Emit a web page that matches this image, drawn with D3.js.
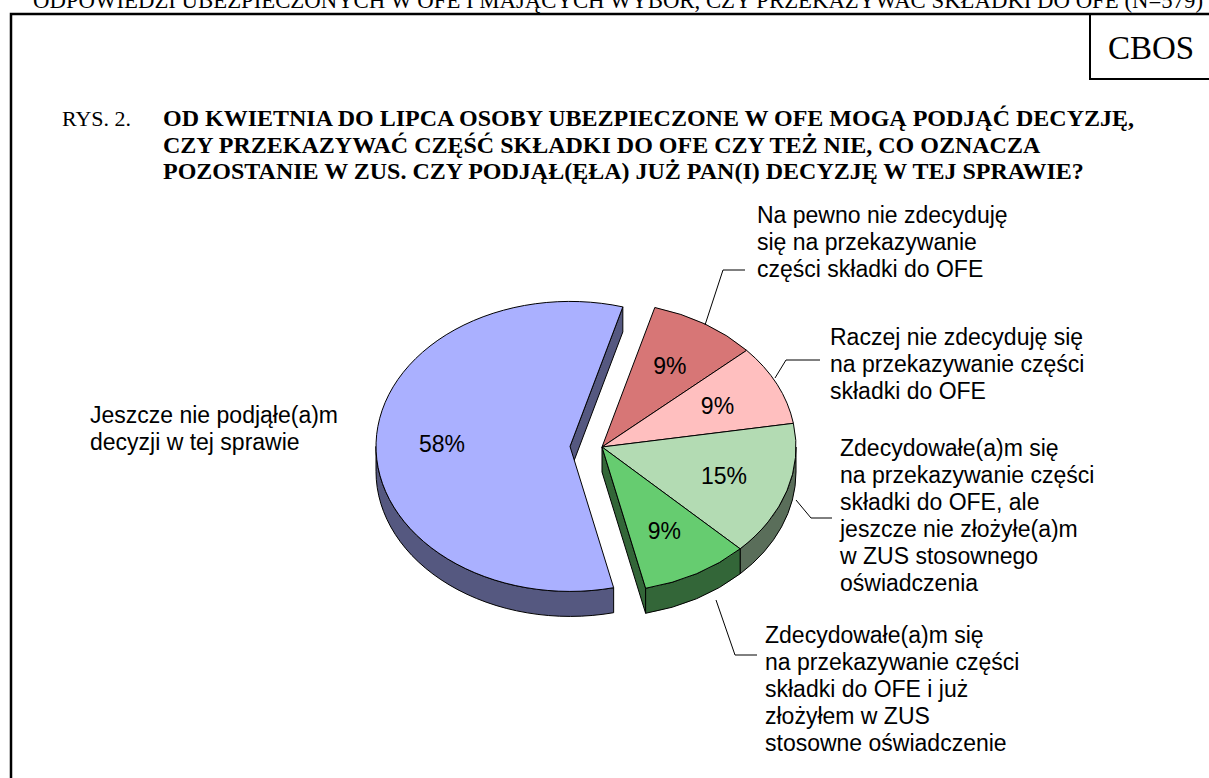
<!DOCTYPE html>
<html>
<head>
<meta charset="utf-8">
<script src="https://cdn.jsdelivr.net/npm/d3@7"></script>
<style>
  body { margin: 0; background: #fff; }
  svg { display: block; }
</style>
</head>
<body>
<div id="chart"></div>
<script>
// ---- data ----
var categories = [
  "Na pewno nie zdecyduję się na przekazywanie części składki do OFE",
  "Raczej nie zdecyduję się na przekazywanie części składki do OFE",
  "Zdecydowałe(a)m się na przekazywanie części składki do OFE, ale jeszcze nie złożyłe(a)m w ZUS stosownego oświadczenia",
  "Zdecydowałe(a)m się na przekazywanie części składki do OFE i już złożyłem w ZUS stosowne oświadczenie",
  "Jeszcze nie podjąłe(a)m decyzji w tej sprawie"
];
var values = [9, 9, 15, 9, 58];
var labelLines = [
  ["Na pewno nie zdecyduję", "się na przekazywanie", "części składki do OFE"],
  ["Raczej nie zdecyduję się", "na przekazywanie części", "składki do OFE"],
  ["Zdecydowałe(a)m się", "na przekazywanie części", "składki do OFE, ale", "jeszcze nie złożyłe(a)m", "w ZUS stosownego", "oświadczenia"],
  ["Zdecydowałe(a)m się", "na przekazywanie części", "składki do OFE i już", "złożyłem w ZUS", "stosowne oświadczenie"],
  ["Jeszcze nie podjąłe(a)m", "decyzji w tej sprawie"]
];
var headerText = "ODPOWIEDZI UBEZPIECZONYCH W OFE I MAJĄCYCH WYBÓR, CZY PRZEKAZYWAĆ SKŁADKI DO OFE (N=579)";
var titleLines = [
  "OD KWIETNIA DO LIPCA OSOBY UBEZPIECZONE W OFE MOGĄ PODJĄĆ DECYZJĘ,",
  "CZY PRZEKAZYWAĆ CZĘŚĆ SKŁADKI DO OFE CZY TEŻ NIE, CO OZNACZA",
  "POZOSTANIE W ZUS. CZY PODJĄŁ(ĘŁA) JUŻ PAN(I) DECYZJĘ W TEJ SPRAWIE?"
];

// ---- styles / layout ----
var sliceColors = ["#d77676", "#ffbfbf", "#b3dbb3", "#66cc70", "#aab0ff"];
var explodeSlice = [0, 0, 0, 0, 32];

var svgwdth = 1209, svghght = 778;
var cx = 602, cy = 447, rx = 194, ry = 145, depth = 25;
var rot = 15.8 * Math.PI / 180;

var sansFont = "'Liberation Sans', Arial, sans-serif";
var serifFont = "'Liberation Serif', 'Times New Roman', serif";

var calloutPos = [
  {x: 757, y: 223, leader: [[705, 325], [723, 270], [745, 270]]},
  {x: 830, y: 345, leader: [[775, 378], [786, 360], [820, 360]]},
  {x: 840, y: 456, leader: [[796, 500], [811, 518], [832, 518]]},
  {x: 765, y: 643, leader: [[716, 600], [735, 655], [757, 655]]},
  {x: 90, y: 423, leader: null}
];

var svg = d3.select("#chart").append("svg")
  .attr("width", svgwdth)
  .attr("height", svghght);

var color = d3.scaleOrdinal().domain(categories).range(sliceColors);

var pie = d3.pie().sort(null).startAngle(rot).endAngle(rot + 2 * Math.PI);
var arcs = pie(values);
arcs.forEach(function(d, i) {
  d.mid = (d.startAngle + d.endAngle) / 2;
  var e = explodeSlice[i] / rx;
  d.ox = rx * e * Math.sin(d.mid);
  d.oy = -ry * e * Math.cos(d.mid);
  d.top = color(categories[i]);
  var c = d3.rgb(d.top);
  d.side = d3.rgb(c.r * 0.5, c.g * 0.5, c.b * 0.5).toString();
});

function pt(d, a, dz) {
  return [cx + d.ox + rx * Math.sin(a), cy + d.oy - ry * Math.cos(a) + (dz || 0)];
}
function ctr(d, dz) {
  return [cx + d.ox, cy + d.oy + (dz || 0)];
}

var pieG = svg.append("g");

// radial side faces between slices that are pulled apart
var faces = [];
arcs.forEach(function(d, i) {
  var n = arcs.length;
  var prev = arcs[(i - 1 + n) % n], next = arcs[(i + 1) % n];
  if (prev.ox !== d.ox && -Math.sin(d.startAngle) > 0) faces.push({d: d, a: d.startAngle});
  if (next.ox !== d.ox && Math.sin(d.endAngle) > 0) faces.push({d: d, a: d.endAngle});
});
faces.forEach(function(f) {
  var c0 = ctr(f.d), p0 = pt(f.d, f.a), p1 = pt(f.d, f.a, depth), c1 = ctr(f.d, depth);
  pieG.append("path")
    .attr("d", "M" + c0 + "L" + p0 + "L" + p1 + "L" + c1 + "Z")
    .attr("fill", f.d.side)
    .attr("stroke", "#000")
    .attr("stroke-width", 1)
    .attr("stroke-linejoin", "round");
});

// curved outer walls, front half only
arcs.forEach(function(d) {
  [0, 2 * Math.PI].forEach(function(k) {
    var a0 = Math.max(d.startAngle, Math.PI / 2 + k);
    var a1 = Math.min(d.endAngle, 3 * Math.PI / 2 + k);
    if (a1 <= a0) return;
    var p = "M" + pt(d, a0) +
      "A" + rx + "," + ry + " 0 0 1 " + pt(d, a1) +
      "L" + pt(d, a1, depth) +
      "A" + rx + "," + ry + " 0 0 0 " + pt(d, a0, depth) + "Z";
    pieG.append("path")
      .attr("d", p)
      .attr("fill", d.side)
      .attr("stroke", "#000")
      .attr("stroke-width", 1)
      .attr("stroke-linejoin", "round");
  });
});

// top faces
pieG.selectAll("path.top")
  .data(arcs)
  .enter().append("path")
  .attr("class", "top")
  .attr("d", function(d) {
    var large = (d.endAngle - d.startAngle) > Math.PI ? 1 : 0;
    return "M" + ctr(d) + "L" + pt(d, d.startAngle) +
      "A" + rx + "," + ry + " 0 " + large + " 1 " + pt(d, d.endAngle) + "Z";
  })
  .attr("fill", function(d) { return d.top; })
  .attr("stroke", "#000")
  .attr("stroke-width", 1)
  .attr("stroke-linejoin", "round");

// percentage labels
pieG.selectAll("text.pct")
  .data(arcs)
  .enter().append("text")
  .attr("class", "pct")
  .attr("x", function(d) { return cx + d.ox + rx * 0.66 * Math.sin(d.mid); })
  .attr("y", function(d) { return cy + d.oy - ry * 0.66 * Math.cos(d.mid) + 8; })
  .attr("text-anchor", "middle")
  .attr("font-family", sansFont)
  .attr("font-size", 23)
  .text(function(d) { return d.value + "%"; });

// callout labels + leader lines
var lineH = 27;
calloutPos.forEach(function(pos, i) {
  if (pos.leader) {
    svg.append("path")
      .attr("d", d3.line()(pos.leader))
      .attr("fill", "none")
      .attr("stroke", "#000")
      .attr("stroke-width", 1);
  }
  var t = svg.append("text")
    .attr("font-family", sansFont)
    .attr("font-size", 23)
    .attr("fill", "#000");
  labelLines[i].forEach(function(line, j) {
    t.append("tspan").attr("x", pos.x).attr("y", pos.y + j * lineH).text(line);
  });
});

// header line, cut by the top edge
svg.append("text")
  .attr("x", 33)
  .attr("y", 8)
  .attr("font-family", serifFont)
  .attr("font-size", 22.7)
  .attr("textLength", 1170)
  .attr("lengthAdjust", "spacingAndGlyphs")
  .text(headerText);

// frame
svg.append("path")
  .attr("d", "M11," + svghght + "V14H" + svgwdth)
  .attr("fill", "none")
  .attr("stroke", "#000")
  .attr("stroke-width", 2.5);
svg.append("path")
  .attr("d", "M1090,14V79H" + svgwdth)
  .attr("fill", "none")
  .attr("stroke", "#000")
  .attr("stroke-width", 2);
svg.append("text")
  .attr("x", 1151)
  .attr("y", 59)
  .attr("text-anchor", "middle")
  .attr("font-family", serifFont)
  .attr("font-size", 33)
  .text("CBOS");

// title
svg.append("text")
  .attr("x", 62)
  .attr("y", 126)
  .attr("font-family", serifFont)
  .attr("font-size", 22)
  .text("RYS. 2.");
titleLines.forEach(function(line, j) {
  svg.append("text")
    .attr("x", 163)
    .attr("y", 126 + j * 26.5)
    .attr("font-family", serifFont)
    .attr("font-size", 24)
    .attr("font-weight", "bold")
    .text(line);
});
</script>
</body>
</html>
